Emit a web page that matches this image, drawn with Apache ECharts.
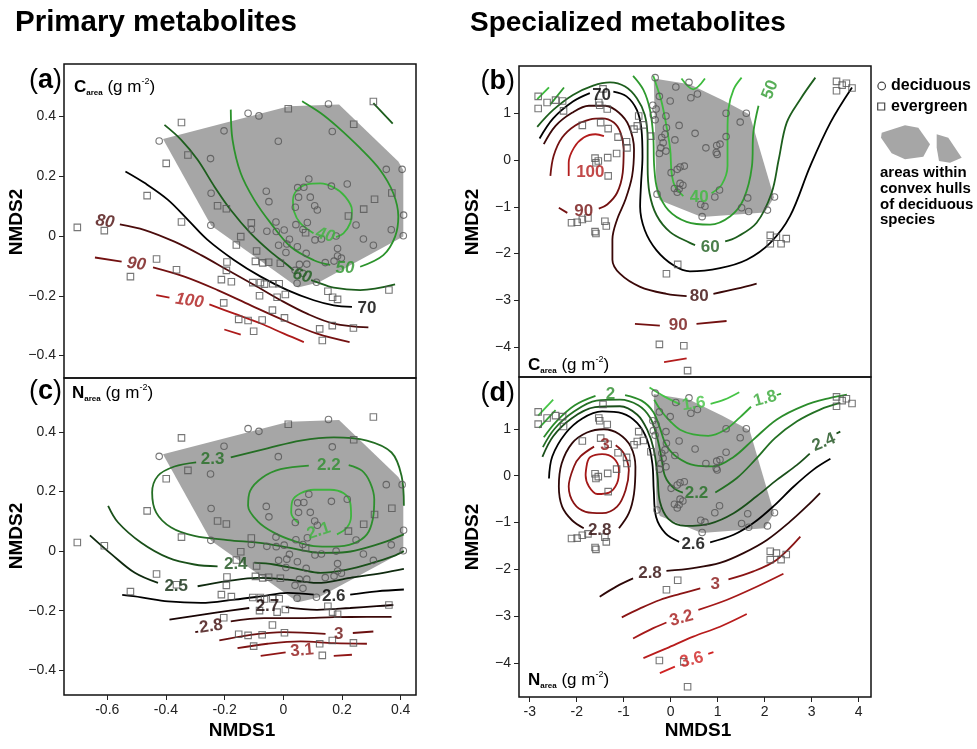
<!DOCTYPE html>
<html>
<head>
<meta charset="utf-8">
<title>NMDS contours</title>
<script src="https://cdn.jsdelivr.net/npm/echarts@6.0.0/dist/echarts.min.js"></script>
<style>
html,body{margin:0;padding:0;background:#fff;}
#chart{width:977px;height:749px;}
</style>
</head>
<body>
<div id="chart"></div>
<script>
const FONT = '"Liberation Sans", Arial, Helvetica, sans-serif';

// ---------- axis domains and tick values ----------
const xDomain1 = [-0.7474, 0.4523];
const yDomainA = [-0.4753, 0.5757];
const yDomainC = [-0.4831, 0.5811];
const xDomain2 = [-3.228, 4.264];
const yDomainB = [-4.637, 2.009];
const yDomainD = [-4.718, 2.104];
const xTicks1 = [-0.6, -0.4, -0.2, 0, 0.2, 0.4];
const yTicks1 = [-0.4, -0.2, 0, 0.2, 0.4];
const xTicks2 = [-3, -2, -1, 0, 1, 2, 3, 4];
const yTicks2 = [-4, -3, -2, -1, 0, 1];

// ---------- ordination 1 (primary metabolites) ----------
const deciduous1 = [[-0.423,0.318],[-0.12,0.411],[-0.083,0.402],[-0.202,0.352],[-0.248,0.259],[-0.017,0.317],[0.154,0.442],[0.167,0.35],[0.351,0.223],[0.405,0.223],[0.087,0.191],[0.049,0.162],[0.07,0.163],[0.164,0.167],[0.218,0.174],[-0.058,0.15],[-0.049,0.115],[-0.246,0.143],[0.052,0.13],[0.092,0.13],[0.041,0.096],[0.107,0.101],[0.116,0.087],[0.41,0.07],[-0.247,0.036],[-0.109,0.022],[-0.025,0.047],[-0.056,0.016],[-0.024,0.015],[0.003,0.02],[0.043,0.038],[0.067,0.022],[0.082,0.045],[0.108,-0.013],[0.13,-0.01],[0.18,0],[0.185,-0.042],[0.248,0.037],[0.273,-0.01],[0.307,-0.031],[0.368,0.021],[0.409,0.001],[-0.016,-0.031],[0.012,-0.027],[0.021,-0.011],[0.048,-0.036],[0.078,-0.058],[0.009,-0.055],[0.185,-0.067],[0.198,-0.074],[0.173,-0.084],[0.143,-0.089],[0.055,-0.095],[0.08,-0.094],[0.04,-0.115],[0.067,-0.125],[0.047,-0.158],[0.113,-0.155]];
const evergreen1 = [[-0.347,0.38],[-0.325,0.271],[-0.399,0.243],[-0.464,0.135],[-0.347,0.047],[-0.702,0.029],[-0.61,0.018],[-0.224,0.101],[-0.194,0.091],[-0.16,-0.03],[-0.145,-0.002],[-0.432,-0.077],[-0.364,-0.113],[-0.521,-0.136],[-0.192,-0.087],[-0.194,-0.115],[-0.211,-0.146],[-0.177,-0.153],[-0.203,-0.224],[-0.152,-0.279],[0.017,0.426],[0.307,0.45],[0.24,0.374],[0.37,0.144],[0.311,0.123],[0.274,0.09],[0.222,0.067],[-0.109,0.044],[0.076,0.011],[-0.091,-0.05],[-0.095,-0.085],[-0.07,-0.09],[-0.05,-0.088],[-0.01,-0.091],[-0.104,-0.156],[-0.078,-0.156],[-0.064,-0.161],[-0.036,-0.16],[-0.014,-0.16],[-0.081,-0.2],[-0.021,-0.205],[0.007,-0.196],[-0.037,-0.248],[0.004,-0.274],[-0.12,-0.283],[-0.072,-0.281],[-0.101,-0.319],[0.152,-0.185],[0.168,-0.205],[0.185,-0.212],[0.124,-0.311],[0.167,-0.3],[0.239,-0.308],[0.133,-0.35],[0.36,-0.181]];
const hull1 = [[-0.41,0.325],[0.019,0.434],[0.19,0.44],[0.392,0.249],[0.409,0.221],[0.409,-0.002],[0.12,-0.156],[0.05,-0.172],[-0.246,0.035]];

// ---------- ordination 2 (specialized metabolites) ----------
const deciduous2 = [[-0.33,1.76],[0.11,1.56],[0.39,1.66],[0.43,1.33],[0.57,1.41],[-0.24,1.36],[-0.01,1.26],[-0.38,1.17],[-0.31,1.09],[-0.37,0.96],[-0.33,0.86],[-0.09,0.69],[0.18,0.74],[-0.12,0.55],[0.09,0.43],[-0.16,0.37],[-0.21,0.26],[-0.24,0.14],[-0.1,0.19],[0.52,0.57],[0.75,0.26],[0.98,0.31],[1.05,0.34],[0.97,0.16],[0.99,0.12],[1.18,1.0],[1.18,0.5],[1.48,0.81],[1.61,1.0],[0.01,-0.27],[0.14,-0.2],[0.2,-0.15],[0.29,-0.13],[0.2,-0.5],[0.08,-0.61],[0.14,-0.69],[0.26,-0.54],[-0.29,-0.73],[0.64,-0.95],[0.73,-0.99],[0.67,-1.21],[0.94,-0.79],[1.04,-0.64],[1.64,-0.81],[1.51,-1.02],[1.66,-1.1],[2.06,-1.07],[2.21,-0.79],[-0.1,0.94],[-0.19,0.48],[0.18,-0.62]];
const evergreen2 = [[-2.82,1.36],[-2.82,1.1],[-2.63,1.23],[-2.45,1.28],[-2.3,1.26],[-2.28,1.05],[-1.53,1.23],[-1.51,1.17],[-1.35,1.09],[-1.44,1.52],[-1.88,0.74],[-1.49,0.8],[-1.33,0.67],[-1.12,0.49],[-0.94,0.39],[-0.93,0.26],[-1.15,0.14],[-1.61,0.04],[-1.54,-0.02],[-1.34,0.05],[-1.59,-0.06],[-1.33,-0.34],[-2.11,-1.34],[-1.99,-1.33],[-1.88,-1.27],[-1.76,-1.24],[-1.4,-1.31],[-1.37,-1.41],[-1.61,-1.53],[-1.59,-1.57],[-0.68,0.94],[-0.71,0.73],[-0.78,0.66],[-0.58,0.75],[-0.42,0.51],[-0.09,-2.43],[0.15,-2.23],[-0.24,-3.94],[0.28,-3.97],[0.36,-4.5],[2.12,-1.61],[2.35,-1.79],[2.46,-1.68],[2.12,-1.79],[2.25,-1.65],[3.53,1.68],[3.53,1.48],[3.74,1.64],[3.86,1.54],[3.65,1.6]];
const hull2 = [[-0.36,1.74],[0.4,1.62],[1.1,1.28],[1.68,0.97],[2.2,-0.8],[2.0,-1.12],[0.66,-1.22],[-0.23,-0.86],[-0.3,-0.7]];

// ---------- contour lines: [level, path] ----------
const contoursA = [
 ['40',[[0.103,0.009],[0.058,0.043],[0.037,0.081],[0.033,0.12],[0.047,0.154],[0.081,0.173],[0.126,0.176],[0.171,0.163],[0.211,0.132],[0.234,0.087],[0.228,0.043],[0.205,0.009],[0.18,-0.004]]],
 ['50',[[-0.179,0.423],[-0.173,0.322],[-0.145,0.21],[-0.099,0.121],[-0.043,0.043],[0.025,-0.036],[0.104,-0.081],[0.16,-0.097]]],
 ['50',[[0.262,-0.103],[0.341,-0.064],[0.381,-0.002],[0.392,0.065],[0.375,0.143],[0.33,0.221],[0.262,0.294],[0.183,0.367],[0.127,0.412],[0.064,0.451]]],
 ['60',[[-0.405,0.372],[-0.348,0.322],[-0.292,0.255],[-0.235,0.166],[-0.179,0.087],[-0.111,0.009],[-0.043,-0.053],[0.014,-0.097],[0.035,-0.115]]],
 ['60',[[0.095,-0.148],[0.11,-0.153],[0.172,-0.173],[0.262,-0.181],[0.381,-0.162]]],
 ['60',[[0.307,0.445],[0.373,0.376]]],
 ['70',[[-0.538,0.216],[-0.472,0.177],[-0.393,0.121],[-0.325,0.054],[-0.258,-0.013],[-0.167,-0.081],[-0.077,-0.136],[0.014,-0.181],[0.104,-0.215],[0.172,-0.232],[0.234,-0.237]]],
 ['80',[[-0.557,0.039],[-0.472,0.02],[-0.371,-0.019],[-0.28,-0.064],[-0.19,-0.114],[-0.099,-0.164],[-0.009,-0.215],[0.081,-0.26],[0.172,-0.293],[0.29,-0.306]]],
 ['90',[[-0.642,-0.072],[-0.551,-0.086]]],
 ['90',[[-0.444,-0.105],[-0.337,-0.136],[-0.224,-0.181],[-0.111,-0.232],[0.002,-0.282],[0.115,-0.327],[0.226,-0.355]]],
 ['100',[[-0.433,-0.198],[-0.388,-0.206]]],
 ['100',[[-0.252,-0.229],[-0.167,-0.26],[-0.077,-0.293],[0.002,-0.327],[0.07,-0.355]]],
 ['100',[[-0.201,-0.313],[-0.145,-0.33]]]
];
const labelsA = [[0.143,0.003,'40'],[0.21,-0.108,'50'],[0.064,-0.134,'60'],[0.285,-0.243,'70'],[-0.608,0.048,'80'],[-0.501,-0.094,'90'],[-0.32,-0.217,'100']];

const contoursC = [
 ['2.1',[[0.053,0.093],[0.027,0.129],[0.031,0.169],[0.059,0.194],[0.104,0.206],[0.16,0.206],[0.206,0.194],[0.228,0.163],[0.231,0.118],[0.217,0.079],[0.183,0.056]]],
 ['2.2',[[0.223,0.289],[0.268,0.27],[0.296,0.23],[0.31,0.174],[0.305,0.107],[0.285,0.056],[0.24,0.026],[0.172,0.015],[0.104,0.017],[0.036,0.034],[-0.032,0.062],[-0.088,0.101],[-0.12,0.152],[-0.113,0.202],[-0.071,0.247],[-0.009,0.275],[0.087,0.287]]],
 ['2.3',[[0.411,0.152],[0.403,0.253],[0.369,0.331],[0.285,0.371],[0.172,0.382],[0.059,0.371],[-0.054,0.345],[-0.179,0.315]]],
 ['2.3',[[-0.297,0.298],[-0.371,0.284],[-0.427,0.253],[-0.447,0.197],[-0.433,0.129],[-0.382,0.079],[-0.303,0.051],[-0.19,0.037],[-0.066,0.026],[0.036,0.008],[0.127,-0.006],[0.217,-0.003],[0.296,0.015],[0.364,0.037],[0.411,0.056]]],
 ['2.4',[[-0.597,0.152],[-0.563,0.096],[-0.484,0.028],[-0.393,-0.022],[-0.303,-0.045],[-0.224,-0.051]]],
 ['2.4',[[-0.099,-0.039],[-0.032,-0.045],[0.059,-0.062],[0.127,-0.073],[0.217,-0.062],[0.307,-0.039],[0.375,-0.017],[0.411,0.0]]],
 ['2.5',[[-0.659,0.053],[-0.585,-0.011],[-0.506,-0.073],[-0.427,-0.107]]],
 ['2.5',[[-0.292,-0.118],[-0.19,-0.101],[-0.088,-0.09],[0.014,-0.096],[0.115,-0.107],[0.228,-0.09],[0.341,-0.073],[0.411,-0.06]]],
 ['2.6',[[-0.549,-0.147],[-0.484,-0.155],[-0.393,-0.169],[-0.28,-0.174],[-0.167,-0.163],[-0.077,-0.152],[0.014,-0.14],[0.104,-0.146]]],
 ['2.6',[[0.228,-0.146],[0.319,-0.135],[0.411,-0.129]]],
 ['2.7',[[-0.388,-0.23],[-0.314,-0.219],[-0.224,-0.206],[-0.116,-0.191]]],
 ['2.7',[[0.008,-0.188],[0.115,-0.197],[0.228,-0.191],[0.319,-0.185],[0.375,-0.181]]],
 ['2.8',[[-0.3,-0.272],[-0.29,-0.27]]],
 ['2.8',[[-0.179,-0.236],[-0.066,-0.225],[0.059,-0.225],[0.172,-0.222],[0.285,-0.221],[0.369,-0.221]]],
 ['3',[[-0.218,-0.3],[-0.111,-0.281],[0.002,-0.272],[0.144,-0.278]]],
 ['3',[[0.237,-0.275],[0.307,-0.27]]],
 ['3.05',[[-0.156,-0.326],[-0.054,-0.311],[0.059,-0.303],[0.172,-0.309],[0.285,-0.311]]],
 ['3.1',[[-0.077,-0.352],[0.008,-0.34]]],
 ['3.1',[[0.172,-0.352],[0.234,-0.348]]]
];
const labelsC = [[0.121,0.067,'2.1'],[0.155,0.287,'2.2'],[-0.241,0.307,'2.3'],[-0.162,-0.045,'2.4'],[-0.365,-0.118,'2.5'],[0.172,-0.152,'2.6'],[-0.054,-0.185,'2.7'],[-0.246,-0.253,'2.8'],[0.189,-0.281,'3'],[0.064,-0.334,'3.1']];

const contoursB = [
 ['40',[[-0.37,1.8],[-0.3,1.59],[-0.19,1.23],[-0.09,0.73],[-0.01,0.23],[0.02,-0.27],[0.09,-0.56],[0.27,-0.77]]],
 ['40',[[0.87,-0.71],[1.09,-0.52],[1.21,-0.13],[1.21,0.59],[1.23,1.09],[1.34,1.51],[1.51,1.76]]],
 ['40',[[0.23,1.74],[0.48,1.51],[0.73,1.74]]],
 ['40',[[-2.84,1.3],[-2.59,1.55]]],
 ['50',[[-0.8,1.8],[-0.58,1.5],[-0.44,1.07],[-0.37,0.5],[-0.35,-0.14],[-0.28,-0.64],[-0.05,-1.07],[0.34,-1.32],[0.84,-1.38],[1.27,-1.2],[1.55,-0.84],[1.73,-0.13],[1.76,0.59],[1.87,1.16]]],
 ['50',[[-2.56,1.19],[-2.27,1.55]]],
 ['60',[[-2.84,0.71],[-2.5,1.07],[-2.08,1.39],[-1.65,1.59],[-1.29,1.66],[-0.97,1.57],[-0.72,1.32],[-0.55,0.96],[-0.49,0.43],[-0.49,-0.14],[-0.45,-0.71],[-0.3,-1.18],[-0.01,-1.54],[0.41,-1.77],[0.52,-1.82]]],
 ['60',[[1.16,-1.74],[1.4,-1.65],[1.83,-1.34],[2.15,-0.7],[2.3,0.01],[2.47,0.8],[2.76,1.3],[3.08,1.76]]],
 ['70',[[-2.79,0.46],[-2.5,0.89],[-2.08,1.25],[-1.72,1.43]]],
 ['70',[[-1.22,1.46],[-0.94,1.36],[-0.72,1.07],[-0.62,0.64],[-0.6,0.07],[-0.63,-0.5],[-0.65,-1.0],[-0.55,-1.5],[-0.3,-1.93],[0.06,-2.25],[0.41,-2.38],[1.05,-2.31],[1.62,-2.13],[2.12,-1.77],[2.54,-1.2],[2.97,-0.13],[3.4,0.8],[3.86,1.55]]],
 ['80',[[-2.7,0.34],[-2.45,0.73],[-2.1,1.01],[-1.74,1.16],[-1.39,1.16],[-1.1,1.01],[-0.89,0.73],[-0.78,0.23],[-0.82,-0.34],[-0.96,-0.84],[-1.14,-1.27],[-1.24,-1.7],[-1.24,-2.13],[-1.08,-2.43],[-0.65,-2.71],[-0.09,-2.86],[0.34,-2.91]]],
 ['80',[[0.91,-2.86],[1.41,-2.75],[1.83,-2.64]]],
 ['90',[[-2.56,-0.34],[-2.49,0.09],[-2.31,0.48],[-2.03,0.74],[-1.71,0.87],[-1.46,0.89],[-1.21,0.8],[-1.07,0.59],[-1.0,0.23],[-1.02,-0.27],[-1.14,-0.7],[-1.35,-0.95],[-1.53,-1.04]]],
 ['90',[[-2.2,-1.13],[-2.38,-1.02]]],
 ['90',[[-0.76,-3.5],[-0.23,-3.54]]],
 ['90',[[0.55,-3.5],[1.19,-3.44]]],
 ['100',[[-2.17,-0.34],[-2.17,-0.06],[-2.06,0.26],[-1.85,0.48],[-1.6,0.55],[-1.42,0.51]]],
 ['100',[[-0.14,-4.32],[0.34,-4.24]]]
];
const labelsB = [[0.61,-0.79,'40'],[2.12,1.5,'50'],[0.84,-1.86,'60'],[-1.47,1.39,'70'],[0.61,-2.91,'80'],[-1.85,-1.09,'90'],[0.16,-3.54,'90'],[-1.71,-0.27,'100']];

const contoursD = [
 ['1.6',[[-0.45,1.88],[-0.12,1.68],[0.2,1.52]]],
 ['1.6',[[0.85,1.53],[1.14,1.62],[1.46,1.78]]],
 ['1.6',[[-2.82,1.28],[-2.5,1.62]]],
 ['1.8',[[-2.8,1.02],[-2.45,1.4]]],
 ['1.8',[[-0.35,1.62],[-0.2,1.38],[0.0,1.15],[0.2,0.98],[0.48,0.88],[0.8,0.85],[1.16,0.98],[1.48,1.25],[1.71,1.47]]],
 ['1.8',[[2.26,1.72],[2.35,1.75]]],
 ['2',[[-2.7,0.82],[-2.43,1.16],[-2.04,1.5],[-1.6,1.7]]],
 ['2',[[-0.97,1.72],[-0.62,1.6],[-0.37,1.36],[-0.23,1.02],[-0.1,0.66],[0.13,0.4],[0.52,0.22],[0.91,0.2],[1.34,0.4],[1.76,0.77],[2.26,1.2],[2.83,1.49],[3.4,1.66],[3.75,1.73]]],
 ['2.2',[[-2.72,0.61],[-2.47,1.0],[-2.08,1.35],[-1.58,1.6],[-1.08,1.62],[-0.69,1.5],[-0.44,1.24],[-0.3,0.86],[-0.2,0.41],[-0.12,-0.01],[0.06,-0.26],[0.26,-0.36]]],
 ['2.2',[[0.95,-0.36],[1.41,-0.05],[1.8,0.34],[2.22,0.8],[2.69,1.16],[3.18,1.41],[3.61,1.55]]],
 ['2.4',[[-2.73,0.4],[-2.5,0.84],[-2.11,1.22],[-1.61,1.46],[-1.08,1.48],[-0.71,1.3],[-0.5,0.98],[-0.36,0.56],[-0.28,-0.01],[-0.23,-0.55],[-0.05,-0.92],[0.31,-1.07],[0.84,-1.02],[1.34,-0.8],[1.83,-0.44],[2.26,-0.09],[2.69,0.23],[2.96,0.47]]],
 ['2.4',[[3.53,0.9],[3.61,0.94]]],
 ['2.6',[[-2.59,-0.06],[-2.52,0.41],[-2.24,0.9],[-1.88,1.22],[-1.46,1.37],[-1.03,1.33],[-0.71,1.12],[-0.5,0.76],[-0.39,0.26],[-0.36,-0.31],[-0.31,-0.88],[-0.11,-1.23],[0.18,-1.41]]],
 ['2.6',[[0.84,-1.42],[1.34,-1.26],[1.76,-1.01],[2.19,-0.65],[2.62,-0.23],[3.04,0.13],[3.4,0.36]]],
 ['2.8',[[-1.85,-1.12],[-2.1,-0.95],[-2.31,-0.66],[-2.38,-0.23],[-2.32,0.26],[-2.1,0.69],[-1.78,0.92],[-1.42,0.99],[-1.1,0.89],[-0.85,0.62],[-0.75,0.19],[-0.78,-0.38],[-0.89,-0.8],[-1.1,-1.12]]],
 ['2.8',[[-1.51,-2.58],[-1.15,-2.36],[-0.8,-2.19]]],
 ['2.8',[[-0.09,-2.03],[0.48,-1.97],[1.05,-1.86],[1.55,-1.65],[2.05,-1.37],[2.54,-0.98],[2.9,-0.65],[3.18,-0.37]]],
 ['3',[[-1.17,0.65],[-1.0,0.48],[-0.89,0.12],[-0.96,-0.31],[-1.14,-0.66],[-1.46,-0.8],[-1.81,-0.77],[-2.06,-0.59],[-2.17,-0.23],[-2.06,0.19],[-1.92,0.41],[-1.63,0.62]]],
 ['3',[[-1.04,-3.02],[-0.65,-2.83],[-0.23,-2.65],[0.2,-2.52],[0.63,-2.4]]],
 ['3',[[1.23,-2.21],[1.76,-2.04],[2.26,-1.79],[2.76,-1.3]]],
 ['3.2',[[-1.78,0.26],[-1.71,0.4],[-1.46,0.46],[-1.21,0.37],[-1.1,0.12],[-1.14,-0.16],[-1.31,-0.36],[-1.56,-0.39],[-1.74,-0.23],[-1.81,0.01],[-1.78,0.26]]],
 ['3.2',[[-0.8,-3.47],[-0.37,-3.25],[-0.09,-3.13]]],
 ['3.2',[[0.59,-2.86],[1.19,-2.65],[1.76,-2.4],[2.4,-2.09]]],
 ['3.4',[[-0.58,-3.89],[-0.09,-3.68],[0.48,-3.43],[1.05,-3.22],[1.62,-2.95]]],
 ['3.6',[[-0.23,-4.21],[0.09,-4.07]]],
 ['3.6',[[0.8,-3.8],[0.91,-3.76]]]
];
const labelsD = [[0.49,1.53,'1.6'],[2.01,1.64,'1.8'],[-1.28,1.73,'2'],[0.55,-0.38,'2.2'],[3.26,0.71,'2.4'],[0.48,-1.47,'2.6'],[-1.51,-1.17,'2.8'],[-0.44,-2.09,'2.8'],[-1.4,0.65,'3'],[0.95,-2.31,'3'],[0.23,-3.04,'3.2'],[0.45,-3.93,'3.6']];

// ---------- styling ----------
const colorsA = {'40':'#3db53d','50':'#2b932b','60':'#1d5e1d','70':'#000000','80':'#4b0c0c','90':'#731111','100':'#ad1a1a'};
const colorsB = {'40':'#3dbb3d','50':'#2e9a2e','60':'#1d5e1d','70':'#000000','80':'#3a0808','90':'#731111','100':'#b31c1c'};
const colorsC = {'2.1':'#3db53d','2.2':'#2e8f2e','2.3':'#246e24','2.4':'#1a501a','2.5':'#0f2a0f','2.6':'#000000','2.7':'#180404','2.8':'#3d0a0a','3':'#6b1010','3.05':'#7d1313','3.1':'#901616'};
const colorsD = {'1.6':'#45c445','1.8':'#36a836','2':'#2b8c2b','2.2':'#237023','2.4':'#1a4f1a','2.6':'#000000','2.8':'#2e0808','3':'#8a1414','3.2':'#a51919','3.4':'#b81c1c','3.6':'#d02222'};
const angleA = {'40':-15,'60':-15,'80':-8,'90':-8,'100':-8};
const angleB = {'50':68};
const angleC = {'2.1':18,'2.8':8,'3.1':5};
const angleD = {'1.6':8,'1.8':15,'2.4':22,'3.2':15,'3.6':15};

const panels = [
  {g:0, ord:1, cont:contoursA, labs:labelsA, col:colorsA, ang:angleA, italic:true},
  {g:1, ord:1, cont:contoursC, labs:labelsC, col:colorsC, ang:angleC, italic:false},
  {g:2, ord:2, cont:contoursB, labs:labelsB, col:colorsB, ang:angleB, italic:false},
  {g:3, ord:2, cont:contoursD, labs:labelsD, col:colorsD, ang:angleD, italic:false}
];

const grids = [
  {left:64, top:64, width:352, height:314},
  {left:64, top:378, width:352, height:317},
  {left:519, top:66, width:352, height:311},
  {left:519, top:377, width:352, height:320}
].map(g => Object.assign({show:true, borderColor:'#111', borderWidth:1.5, backgroundColor:'rgba(0,0,0,0)'}, g));

function num(v){ return String(Math.round(v * 10) / 10); }
const minusFmt = v => (v < -1e-9 ? '\u2212' + num(-v) : num(Math.abs(v)));
const hyphenFmt = v => (v < -1e-9 ? '-' + num(-v) : num(Math.abs(v)));

function axis(gi, dom, ticks, show, fmt, pos) {
  return {
    type:'value', gridIndex:gi, min:dom[0], max:dom[1], position:pos,
    axisLine:{show:false, onZero:false}, splitLine:{show:false},
    axisTick:{show:show, customValues:ticks, length:5, lineStyle:{color:'#222', width:1}},
    axisLabel:{show:show, customValues:ticks, formatter:fmt, fontSize:14, color:'#222', fontFamily:FONT, margin:8}
  };
}
const xAxes = [
  axis(0, xDomain1, xTicks1, false, hyphenFmt, 'bottom'),
  axis(1, xDomain1, xTicks1, true, hyphenFmt, 'bottom'),
  axis(2, xDomain2, xTicks2, false, hyphenFmt, 'bottom'),
  axis(3, xDomain2, xTicks2, true, hyphenFmt, 'bottom')
];
const yAxes = [
  axis(0, yDomainA, yTicks1, true, minusFmt, 'left'),
  axis(1, yDomainC, yTicks1, true, minusFmt, 'left'),
  axis(2, yDomainB, yTicks2, true, minusFmt, 'left'),
  axis(3, yDomainD, yTicks2, true, minusFmt, 'left')
];

const series = [];
panels.forEach(p => {
  const hull = p.ord === 1 ? hull1 : hull2;
  const dec = p.ord === 1 ? deciduous1 : deciduous2;
  const eve = p.ord === 1 ? evergreen1 : evergreen2;
  series.push({
    type:'custom', xAxisIndex:p.g, yAxisIndex:p.g, data:hull, encode:{x:0, y:1},
    silent:true, z:1, clip:true,
    renderItem:(params, api) => {
      if (params.dataIndex !== 0) return null;
      return {type:'polygon', shape:{points: hull.map(h => api.coord(h))}, style:{fill:'#a6a6a6'}};
    }
  });
  p.cont.forEach(c => {
    series.push({
      type:'line', xAxisIndex:p.g, yAxisIndex:p.g, data:c[1], smooth:0.35,
      symbol:'none', showSymbol:false, silent:true, z:3, clip:true,
      lineStyle:{color:p.col[c[0]], width:1.8}
    });
  });
  series.push({
    type:'scatter', xAxisIndex:p.g, yAxisIndex:p.g, symbol:'circle', symbolSize:6.5, z:4, silent:true,
    itemStyle:{color:'rgba(0,0,0,0)', borderColor:'#555555', borderWidth:1.1},
    data:dec
  });
  series.push({
    type:'scatter', xAxisIndex:p.g, yAxisIndex:p.g, symbol:'rect', symbolSize:6.5, z:4, silent:true,
    itemStyle:{color:'rgba(0,0,0,0)', borderColor:'#555555', borderWidth:1.1},
    data:eve
  });
  series.push({
    type:'scatter', xAxisIndex:p.g, yAxisIndex:p.g, symbolSize:1, z:6, silent:true,
    itemStyle:{color:'rgba(0,0,0,0)'},
    data:p.labs.map(l => ({
      value:[l[0], l[1]],
      label:{
        show:true, position:'inside', formatter:l[2], color:p.col[l[2]],
        rotate:p.ang[l[2]] || 0,
        fontStyle:(p.italic && l[2] !== '70') ? 'italic' : 'normal'
      }
    })),
    label:{fontSize:17, fontWeight:'bold', fontFamily:FONT}
  });
});

function t(x, y, text, font, extra) {
  return Object.assign({type:'text', x:x, y:y, silent:true, z:100,
    style:{text:text, font:font, fill:'#000', verticalAlign:'middle', align:'left'}}, extra || {});
}
function varLabel(x, y, letter) {
  return {type:'text', x:x, y:y, silent:true, z:100, style:{
    text:'{b|' + letter + '}{s|area}{n| (g m}{p|-2}{n|)}', verticalAlign:'middle', align:'left',
    rich:{
      b:{font:'bold 17px ' + FONT, fill:'#000', lineHeight:20, verticalAlign:'middle'},
      s:{font:'bold 8px ' + FONT, fill:'#000', lineHeight:20, verticalAlign:'bottom'},
      n:{font:'17px ' + FONT, fill:'#000', lineHeight:20, verticalAlign:'middle'},
      p:{font:'9px ' + FONT, fill:'#000', lineHeight:20, verticalAlign:'top'}
    }}};
}
function panelLetter(x, y, letter) {
  return {type:'text', x:x, y:y, silent:true, z:100, style:{
    text:'{p|(}{l|' + letter + '}{p|)}', align:'right', verticalAlign:'middle',
    rich:{p:{font:'27px ' + FONT, fill:'#000'}, l:{font:'bold 27px ' + FONT, fill:'#000'}}}};
}
function axisName(x, y, text, vertical) {
  const g = t(x, y, text, 'bold 19px ' + FONT);
  g.style.align = 'center';
  if (vertical) g.rotation = Math.PI / 2;
  return g;
}
const graphic = [
  t(15, 23, 'Primary metabolites', 'bold 29.5px ' + FONT),
  t(470, 23, 'Specialized metabolites', 'bold 28px ' + FONT),
  panelLetter(62, 81, 'a'), panelLetter(62, 392, 'c'),
  panelLetter(515, 82, 'b'), panelLetter(515, 394, 'd'),
  varLabel(74, 87, 'C'), varLabel(72, 393, 'N'),
  varLabel(528, 365, 'C'), varLabel(528, 680, 'N'),
  axisName(17, 222, 'NMDS2', true),
  axisName(17, 536, 'NMDS2', true),
  axisName(473, 222, 'NMDS2', true),
  axisName(473, 537, 'NMDS2', true),
  axisName(242, 731, 'NMDS1', false),
  axisName(698, 731, 'NMDS1', false),
  {type:'circle', silent:true, shape:{cx:881.7, cy:86, r:3.8}, style:{fill:'none', stroke:'#444', lineWidth:1.2}},
  t(891, 86, 'deciduous', 'bold 16px ' + FONT),
  {type:'rect', silent:true, shape:{x:877.7, y:103, width:7, height:7}, style:{fill:'none', stroke:'#444', lineWidth:1.2}},
  t(891, 107, 'evergreen', 'bold 16px ' + FONT),
  {type:'polygon', silent:true, shape:{points:[[881.7,132.7],[905,125.3],[918.3,127.7],[930,144.3],[923.3,156.7],[905,159.3],[891.7,153.3],[881,137.7]]}, style:{fill:'#a6a6a6'}},
  {type:'polygon', silent:true, shape:{points:[[936.7,134.3],[948.3,137.7],[961.7,157.7],[950,162.7],[939,161],[936.7,147.7]]}, style:{fill:'#a6a6a6'}},
  t(880, 173, 'areas within', 'bold 15px ' + FONT),
  t(880, 189, 'convex hulls', 'bold 15px ' + FONT),
  t(880, 204.5, 'of deciduous', 'bold 15px ' + FONT),
  t(880, 220, 'species', 'bold 15px ' + FONT)
];

const chart = echarts.init(document.getElementById('chart'), null, {renderer:'canvas'});
chart.setOption({
  animation:false,
  backgroundColor:'#ffffff',
  grid:grids,
  xAxis:xAxes,
  yAxis:yAxes,
  series:series,
  graphic:graphic
});
</script>
</body>
</html>
